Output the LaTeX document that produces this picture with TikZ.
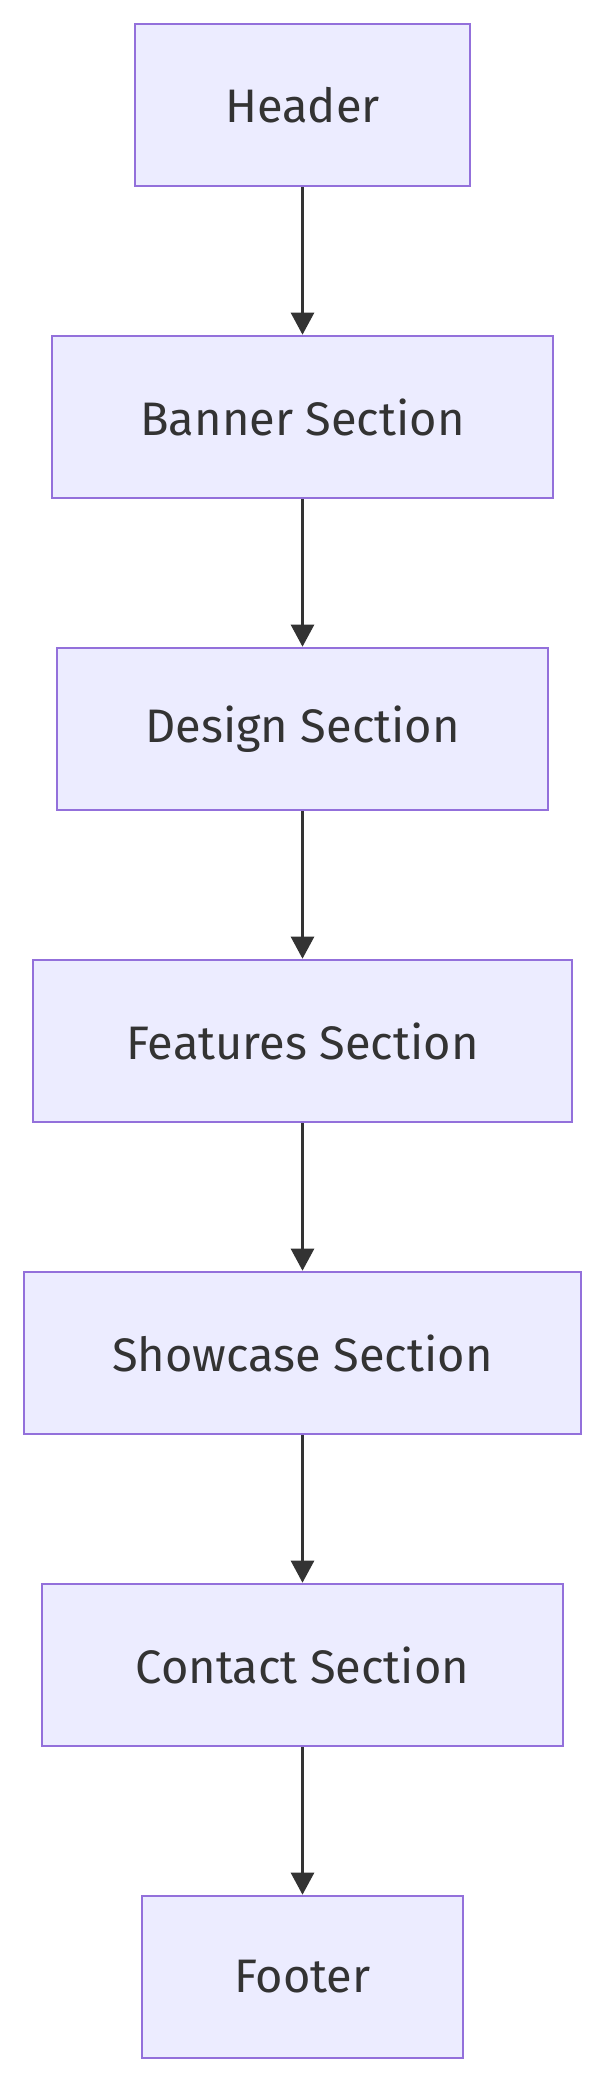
\documentclass[tikz,border=0pt]{standalone}
\usepackage{fontspec}
\setmainfont{Fira Sans}
\usetikzlibrary{arrows.meta}
\definecolor{boxfill}{HTML}{ECECFF}
\definecolor{boxline}{HTML}{9370DB}
\definecolor{ink}{HTML}{333333}
\begin{document}
\begin{tikzpicture}[x=1pt,y=-1pt,
  stepbox/.style={draw=boxline,fill=boxfill,line width=2.6pt,minimum height=162pt,inner sep=0pt,text=ink,font=\fontsize{47}{56}\selectfont},
  flow/.style={draw=ink,line width=2.6pt,-{Triangle[length=22pt,width=23pt]}}]
\useasboundingbox (0,0) rectangle (605,2082);
\fill[white] (0,0) rectangle (605,2082);
\node[stepbox,minimum width=335pt] (h) at (302.5,105) {Header};
\node[stepbox,minimum width=501pt] (b) at (302.5,417) {Banner Section};
\node[stepbox,minimum width=491pt] (d) at (302.5,729) {Design Section};
\node[stepbox,minimum width=539pt] (f) at (302.5,1041) {Features Section};
\node[stepbox,minimum width=557pt] (s) at (302.5,1353) {Showcase Section};
\node[stepbox,minimum width=521pt] (c) at (302.5,1665) {Contact Section};
\node[stepbox,minimum width=321pt] (ft) at (302.5,1977) {Footer};
\draw[flow] (h) -- (b);
\draw[flow] (b) -- (d);
\draw[flow] (d) -- (f);
\draw[flow] (f) -- (s);
\draw[flow] (s) -- (c);
\draw[flow] (c) -- (ft);
\end{tikzpicture}
\end{document}
